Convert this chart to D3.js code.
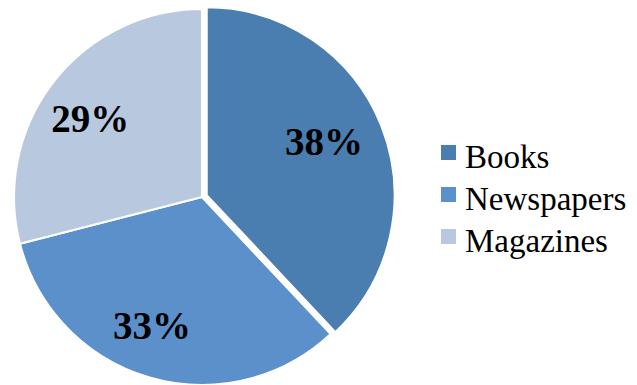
<!DOCTYPE html>
<html>
<head>
<meta charset="utf-8">
<script src="https://cdn.jsdelivr.net/npm/d3@7/dist/d3.min.js"></script>
<style>
  html, body { margin: 0; padding: 0; background: #ffffff; }
  svg { display: block; }
</style>
</head>
<body>
<svg id="chart" width="637" height="385"></svg>
<script>
// Share of reading material
const categories = ["Books", "Newspapers", "Magazines"];
const values = [38, 33, 29];
const colors = ["#4a7db0", "#5b90cb", "#b8c8df"];

const width = 637, height = 385;
const cx = 202, cy = 197, radius = 188;
const explode = [5, 0, 0];                 // pull-out distance per slice
const labelRadiusFactor = [0.685, 0.735, 0.725];
const labelAngleShift = [-2.7, 5, -2.9];   // degrees, nudges off the slice middle

const svg = d3.select("#chart");

const pie = d3.pie().sort(null).value(d => d.value);
const arcs = pie(categories.map((c, i) => ({
  name: c, value: values[i], color: colors[i], explode: explode[i],
  lr: labelRadiusFactor[i] * radius, la: labelAngleShift[i] * Math.PI / 180
})));

const arc = d3.arc().innerRadius(0).outerRadius(radius);

const g = svg.append("g").attr("transform", `translate(${cx},${cy})`);

function offset(d) {
  const a = (d.startAngle + d.endAngle) / 2;
  return [Math.sin(a) * d.data.explode, -Math.cos(a) * d.data.explode];
}
function labelPos(d) {
  const a = (d.startAngle + d.endAngle) / 2 + d.data.la;
  return [Math.sin(a) * d.data.lr, -Math.cos(a) * d.data.lr];
}

const slices = g.selectAll("g.slice")
  .data(arcs)
  .join("g")
  .attr("class", "slice")
  .attr("transform", d => { const o = offset(d); return `translate(${o[0]},${o[1]})`; });

slices.append("path")
  .attr("d", arc)
  .attr("fill", d => d.data.color)
  .attr("stroke", "#ffffff")
  .attr("stroke-width", 2.2)
  .attr("stroke-linejoin", "round");

const total = d3.sum(values);
slices.append("text")
  .attr("x", d => labelPos(d)[0])
  .attr("y", d => labelPos(d)[1])
  .attr("text-anchor", "middle")
  .attr("dy", "0.34em")
  .attr("font-family", "'Liberation Serif', 'Times New Roman', serif")
  .attr("font-weight", "bold")
  .attr("font-size", 39)
  .attr("fill", "#000000")
  .text(d => Math.round(d.data.value / total * 100) + "%");

// Legend
const legend = svg.append("g").attr("transform", "translate(441,145)");
const rowGap = 42;
const items = legend.selectAll("g.item")
  .data(categories)
  .join("g")
  .attr("class", "item")
  .attr("transform", (d, i) => `translate(0,${i * rowGap})`);

items.append("rect")
  .attr("x", 0).attr("y", 0)
  .attr("width", 15).attr("height", 15)
  .attr("fill", (d, i) => colors[i]);

items.append("text")
  .attr("x", 24)
  .attr("y", 23)
  .attr("font-family", "'Liberation Serif', 'Times New Roman', serif")
  .attr("font-size", 33)
  .attr("fill", "#000000")
  .text(d => d);
</script>
</body>
</html>
